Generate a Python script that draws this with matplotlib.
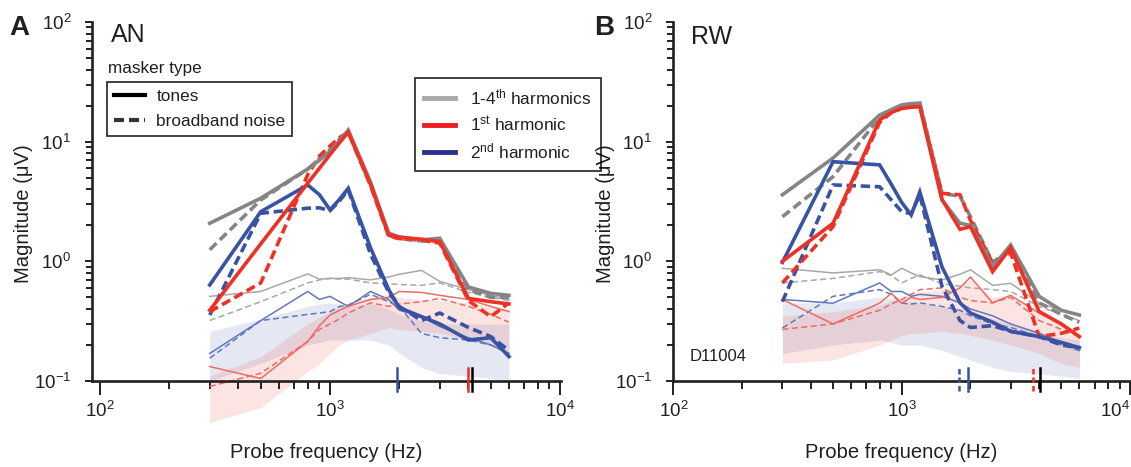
import numpy as np
import matplotlib
matplotlib.use("Agg")
import matplotlib.pyplot as plt
from matplotlib.lines import Line2D
from matplotlib.ticker import LogLocator, NullFormatter

plt.rcParams['font.family'] = ['Liberation Sans', 'DejaVu Sans']
plt.rcParams['mathtext.fontset'] = 'custom'
plt.rcParams['mathtext.rm'] = 'Liberation Sans'
plt.rcParams['mathtext.it'] = 'Liberation Sans:italic'
plt.rcParams['mathtext.bf'] = 'Liberation Sans:bold'

# ---------------- data ----------------
freqs = [300, 500, 800, 900, 1000, 1100, 1200, 1500, 1800, 2000, 2500, 3000, 4000, 5000, 6000]

# Panel A (AN)
A_grey_tone = [2.08, 3.37, 5.9, 7.0, 8.3, 10.2, 12.5, 4.6, 1.72, 1.6, 1.51, 1.56, 0.61, 0.54, 0.52]
A_grey_noise = [1.25, 3.26, 5.9, 7.2, 8.6, 10.5, 12.3, 4.5, 1.65, 1.55, 1.48, 1.5, 0.58, 0.5, 0.5]
A_red_tone = [0.39, 1.4, 4.5, 6.0, 7.8, 9.8, 12.0, 4.4, 1.66, 1.59, 1.53, 1.46, 0.49, 0.46, 0.44]
A_red_noise = [0.38, 0.66, 5.3, 7.6, 9.2, 10.8, 12.0, 4.3, 1.62, 1.55, 1.5, 1.42, 0.47, 0.345, 0.45]
A_blue_tone = [0.635, 2.6, 4.35, 3.6, 2.69, 3.3, 4.08, 1.3, 0.58, 0.41, 0.345, 0.30, 0.22, 0.23, 0.16]
A_blue_noise = [0.356, 2.52, 2.78, 2.8, 2.65, 3.2, 3.95, 1.15, 0.55, 0.42, 0.32, 0.37, 0.28, 0.235, 0.18]

A_grey_tone_thin = [0.51, 0.56, 0.785, 0.71, 0.72, 0.72, 0.73, 0.70, 0.74, 0.78, 0.84, 0.68, 0.58, 0.52, 0.48]
A_grey_noise_thin = [0.32, 0.46, 0.66, 0.70, 0.72, 0.71, 0.71, 0.66, 0.65, 0.64, 0.63, 0.66, 0.55, 0.5, 0.47]
A_blue_tone_thin = [0.17, 0.32, 0.56, 0.48, 0.51, 0.46, 0.42, 0.56, 0.48, 0.39, 0.345, 0.285, 0.23, 0.2, 0.17]
A_blue_noise_thin = [0.155, 0.32, 0.36, 0.37, 0.38, 0.42, 0.43, 0.53, 0.46, 0.42, 0.25, 0.23, 0.22, 0.2, 0.17]
A_red_tone_thin = [0.132, 0.105, 0.214, 0.29, 0.355, 0.39, 0.42, 0.48, 0.5, 0.56, 0.55, 0.52, 0.48, 0.42, 0.38]
A_red_noise_thin = [0.09, 0.116, 0.214, 0.27, 0.30, 0.33, 0.37, 0.45, 0.42, 0.44, 0.46, 0.49, 0.42, 0.36, 0.31]

A_blue_band_lo = [0.10, 0.14, 0.2, 0.21, 0.22, 0.22, 0.22, 0.22, 0.2, 0.17, 0.13, 0.115, 0.11, 0.105, 0.1]
A_blue_band_hi = [0.26, 0.33, 0.42, 0.44, 0.45, 0.44, 0.42, 0.45, 0.4, 0.36, 0.32, 0.3, 0.3, 0.3, 0.3]
A_red_band_lo = [0.045, 0.06, 0.12, 0.14, 0.17, 0.2, 0.22, 0.25, 0.28, 0.27, 0.26, 0.25, 0.22, 0.2, 0.17]
A_red_band_hi = [0.11, 0.16, 0.3, 0.34, 0.38, 0.42, 0.45, 0.5, 0.52, 0.5, 0.48, 0.47, 0.45, 0.42, 0.4]

# Panel B (RW)
B_grey_tone = [3.6, 7.3, 16.7, 18.5, 20.3, 20.8, 21.0, 3.26, 2.08, 2.0, 0.9, 1.37, 0.51, 0.39, 0.356]
B_grey_noise = [2.36, 5.1, 16.0, 18.5, 20.0, 20.5, 21.0, 3.7, 3.5, 2.36, 0.98, 1.25, 0.45, 0.36, 0.31]
B_red_tone = [1.0, 2.08, 15.2, 17.5, 19.0, 19.4, 19.6, 3.3, 1.85, 1.95, 0.82, 1.3, 0.38, 0.30, 0.235]
B_red_noise = [0.66, 1.95, 14.5, 17.5, 19.0, 19.5, 20.0, 3.7, 3.6, 2.2, 0.97, 1.18, 0.235, 0.25, 0.277]
B_blue_tone = [0.98, 6.8, 6.4, 4.4, 3.1, 2.44, 3.8, 0.9, 0.45, 0.37, 0.31, 0.26, 0.235, 0.21, 0.19]
B_blue_noise = [0.46, 4.35, 4.2, 3.26, 2.6, 2.5, 3.6, 0.62, 0.32, 0.28, 0.29, 0.26, 0.235, 0.2, 0.19]

B_grey_tone_thin = [0.875, 0.8, 0.85, 0.77, 0.875, 0.8, 0.745, 0.7, 0.78, 0.85, 0.63, 0.655, 0.45, 0.39, 0.356]
B_grey_noise_thin = [0.66, 0.72, 0.82, 0.76, 0.66, 0.72, 0.77, 0.65, 0.62, 0.6, 0.58, 0.56, 0.42, 0.36, 0.32]
B_blue_tone_thin = [0.48, 0.447, 0.66, 0.56, 0.56, 0.51, 0.53, 0.51, 0.45, 0.4, 0.35, 0.3, 0.25, 0.21, 0.18]
B_blue_noise_thin = [0.277, 0.51, 0.58, 0.53, 0.447, 0.44, 0.45, 0.42, 0.39, 0.35, 0.3, 0.28, 0.235, 0.2, 0.18]
B_red_tone_thin = [0.48, 0.30, 0.447, 0.54, 0.447, 0.5, 0.48, 0.5, 0.6, 0.74, 0.45, 0.52, 0.37, 0.3, 0.23]
B_red_noise_thin = [0.27, 0.3, 0.39, 0.44, 0.48, 0.53, 0.58, 0.6, 0.5, 0.47, 0.45, 0.5, 0.32, 0.27, 0.235]

B_blue_band_lo = [0.17, 0.2, 0.22, 0.21, 0.2, 0.2, 0.2, 0.18, 0.16, 0.15, 0.13, 0.12, 0.115, 0.11, 0.105]
B_blue_band_hi = [0.45, 0.45, 0.5, 0.49, 0.48, 0.46, 0.45, 0.42, 0.4, 0.38, 0.33, 0.3, 0.26, 0.23, 0.22]
B_red_band_lo = [0.14, 0.15, 0.2, 0.22, 0.24, 0.25, 0.25, 0.26, 0.25, 0.24, 0.22, 0.2, 0.17, 0.14, 0.13]
B_red_band_hi = [0.35, 0.38, 0.43, 0.47, 0.5, 0.53, 0.55, 0.58, 0.62, 0.7, 0.5, 0.52, 0.38, 0.3, 0.24]

# frequency markers on x axis: (freq, color, style)
A_markers = [(1950, 'blue', '-'), (4000, 'red', '-'), (4150, 'black', '-')]
B_markers = [(1790, 'blue', '--'), (1960, 'blue', '-'), (3760, 'red', '--'), (4020, 'black', '-')]

# ---------------- style ----------------
C_GREY = '#858585'
C_RED = '#EE3124'
C_BLUE = '#3953A4'
C_GREY_T = '#A8A8A8'
C_RED_T = '#EF6A60'
C_BLUE_T = '#6078BC'
C_TXT = '#231F20'
MK = {'blue': C_BLUE, 'red': C_RED, 'black': '#000000'}

W, H = 1131, 467
fig = plt.figure(figsize=(W / 100, H / 100), dpi=100)

axA = fig.add_axes([92 / W, 1 - 381 / H, (561 - 92) / W, 359 / H])
axB = fig.add_axes([673 / W, 1 - 381 / H, (1130 - 673) / W, 359 / H])

LW = 2.6
LWt = 1.1
FS_TICK = 13.5
FS_LAB = 14.6


def draw(ax, d, markers, xlim):
    f = np.array(freqs)
    ax.fill_between(f, d['blue_lo'], d['blue_hi'], color=C_BLUE, alpha=0.13, lw=0, clip_on=False, zorder=1)
    ax.fill_between(f, d['red_lo'], d['red_hi'], color=C_RED, alpha=0.13, lw=0, clip_on=False, zorder=1)
    # thin lines
    for key, col in [('grey', C_GREY_T), ('blue', C_BLUE_T), ('red', C_RED_T)]:
        ax.plot(f, d[key + '_tone_thin'], color=col, lw=LWt, zorder=2, clip_on=False)
        ax.plot(f, d[key + '_noise_thin'], color=col, lw=LWt, ls=(0, (4, 2.2)), zorder=2, clip_on=False)
    # thick lines
    for key, col in [('grey', C_GREY), ('blue', C_BLUE), ('red', C_RED)]:
        ax.plot(f, d[key + '_noise'], color=col, lw=LW, ls=(0, (2.6, 1.3)), zorder=3,
                solid_capstyle='butt', dash_capstyle='butt')
        ax.plot(f, d[key + '_tone'], color=col, lw=LW, zorder=4, solid_joinstyle='miter')
    trans = ax.get_xaxis_transform()
    for fr, c, st in markers:
        ax.plot([fr, fr], [-0.028, 0.036], transform=trans, color=MK[c], lw=1.8,
                ls=(0, (2.2, 1.2)) if st == '--' else '-', clip_on=False, zorder=6)

    ax.set_xscale('log')
    ax.set_yscale('log')
    ax.set_xlim(*xlim)
    ax.set_ylim(0.1, 100)
    for s in ['top', 'right']:
        ax.spines[s].set_visible(False)
    for s in ['left', 'bottom']:
        ax.spines[s].set_linewidth(1.9)
        ax.spines[s].set_color(C_TXT)
    ax.xaxis.set_major_locator(LogLocator(base=10, numticks=10))
    ax.xaxis.set_minor_locator(LogLocator(base=10, subs=np.arange(2, 10), numticks=20))
    ax.yaxis.set_major_locator(LogLocator(base=10, numticks=10))
    ax.yaxis.set_minor_locator(LogLocator(base=10, subs=np.arange(2, 10), numticks=20))
    ax.xaxis.set_minor_formatter(NullFormatter())
    ax.yaxis.set_minor_formatter(NullFormatter())
    ax.tick_params(axis='x', which='major', length=10, width=1.4, direction='out', pad=4, labelsize=FS_TICK, colors=C_TXT)
    ax.tick_params(axis='x', which='minor', length=6, width=1.4, direction='out', colors=C_TXT)
    ax.tick_params(axis='y', which='major', length=5, width=1.4, direction='out', pad=10, labelsize=FS_TICK, colors=C_TXT)
    ax.tick_params(axis='y', which='minor', length=4.5, width=1.4, direction='out', colors=C_TXT)
    ax.set_xlabel('Probe frequency (Hz)', fontsize=FS_LAB, color=C_TXT)
    ax.set_ylabel('Magnitude (μV)', fontsize=FS_LAB, color=C_TXT)
    ax.patch.set_alpha(0)


dA = dict(grey_tone=A_grey_tone, grey_noise=A_grey_noise, red_tone=A_red_tone, red_noise=A_red_noise,
          blue_tone=A_blue_tone, blue_noise=A_blue_noise,
          grey_tone_thin=A_grey_tone_thin, grey_noise_thin=A_grey_noise_thin,
          blue_tone_thin=A_blue_tone_thin, blue_noise_thin=A_blue_noise_thin,
          red_tone_thin=A_red_tone_thin, red_noise_thin=A_red_noise_thin,
          blue_lo=A_blue_band_lo, blue_hi=A_blue_band_hi, red_lo=A_red_band_lo, red_hi=A_red_band_hi)
dB = dict(grey_tone=B_grey_tone, grey_noise=B_grey_noise, red_tone=B_red_tone, red_noise=B_red_noise,
          blue_tone=B_blue_tone, blue_noise=B_blue_noise,
          grey_tone_thin=B_grey_tone_thin, grey_noise_thin=B_grey_noise_thin,
          blue_tone_thin=B_blue_tone_thin, blue_noise_thin=B_blue_noise_thin,
          red_tone_thin=B_red_tone_thin, red_noise_thin=B_red_noise_thin,
          blue_lo=B_blue_band_lo, blue_hi=B_blue_band_hi, red_lo=B_red_band_lo, red_hi=B_red_band_hi)

draw(axA, dA, A_markers, (92.3, 10100))
draw(axB, dB, B_markers, (99.5, 10000))

axA.yaxis.set_label_coords(-0.126, 0.465)
axB.yaxis.set_label_coords(-0.126, 0.465)
axA.xaxis.set_label_coords(0.5, -0.172)
axB.xaxis.set_label_coords(0.5, -0.172)

# panel letters and titles
fig.text(9 / W, 1 - 35 / H, 'A', fontsize=20, fontweight='bold', color=C_TXT, va='baseline')
fig.text(594 / W, 1 - 35 / H, 'B', fontsize=20, fontweight='bold', color=C_TXT, va='baseline')
fig.text(111 / W, 1 - 42 / H, 'AN', fontsize=18, color=C_TXT, va='baseline')
fig.text(691 / W, 1 - 44 / H, 'RW', fontsize=18, color=C_TXT, va='baseline')
fig.text(108 / W, 1 - 73 / H, 'masker type', fontsize=12.3, color=C_TXT, va='baseline')
fig.text(690 / W, 1 - 361 / H, 'D11004', fontsize=12, color=C_TXT, va='baseline')

# legends
h1 = [Line2D([], [], color='#000000', lw=3),
      Line2D([], [], color='#333333', lw=3, ls=(0, (2.4, 1.2)))]
leg1 = fig.legend(h1, ['tones', 'broadband noise'], loc='upper left',
                  bbox_to_anchor=(107 / W, 1 - 82 / H), fontsize=12.4, frameon=True,
                  fancybox=False, edgecolor='#000000', handlelength=1.85, handletextpad=0.64,
                  borderpad=0.38, labelspacing=0.6, borderaxespad=0)
leg1.get_frame().set_linewidth(1.3)
for t in leg1.get_texts():
    t.set_color(C_TXT)

h2 = [Line2D([], [], color='#A7A9AC', lw=3.5),
      Line2D([], [], color='#ED1C24', lw=3.5),
      Line2D([], [], color='#2E3192', lw=3.5)]
leg2 = fig.legend(h2, ['1-4$^{\\mathrm{th}}$ harmonics', '1$^{\\mathrm{st}}$ harmonic', '2$^{\\mathrm{nd}}$ harmonic'],
                  loc='upper left', bbox_to_anchor=(415 / W, 1 - 78 / H), fontsize=12.4, frameon=True,
                  fancybox=False, edgecolor='#000000', handlelength=1.8, handletextpad=0.85,
                  borderpad=0.55, labelspacing=0.42, borderaxespad=0)
leg2.get_frame().set_linewidth(1.3)
leg2.get_frame().set_facecolor('none')
for t in leg2.get_texts():
    t.set_color(C_TXT)

# keep the last tick label of panel B inside the figure
fig.canvas.draw()
for t in axB.xaxis.get_major_ticks():
    if abs(t.get_loc() - 1e4) < 1:
        t.label1.set_horizontalalignment('right')

fig.savefig('out.png', dpi=100)
